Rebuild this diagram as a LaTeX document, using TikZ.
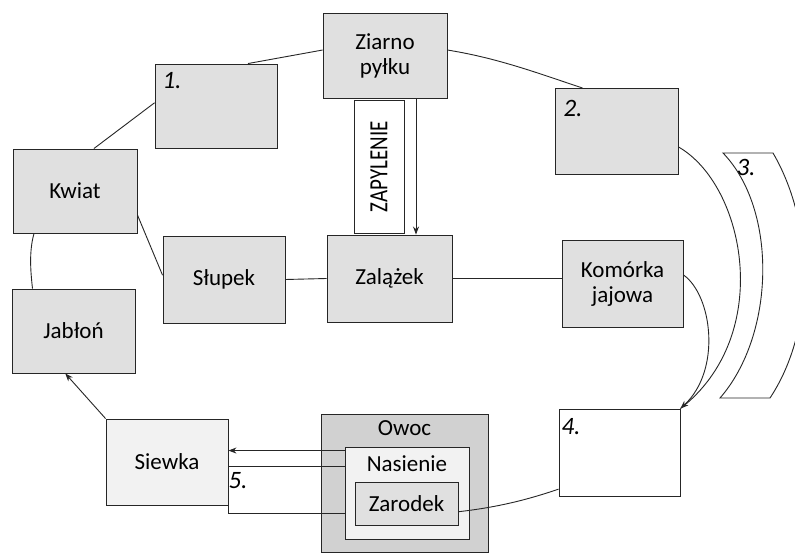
\documentclass[tikz,border=0pt]{standalone}
\usepackage{fontspec}
\setmainfont{Carlito}
\usetikzlibrary{calc,arrows.meta}
\begin{document}
\begin{tikzpicture}[x=1pt,y=-1pt,
  box/.style={draw=black!85, line width=0.9pt, fill=black!12, inner sep=2pt, align=center,
    font=\fontsize{23}{25}\selectfont},
  plainbox/.style={box, fill=white},
  conn/.style={draw=black!85, line width=0.9pt},
  arr/.style={conn, -{Stealth[length=8pt,width=6pt]}},
  lbl/.style={font=\fontsize{23}{25}\selectfont, inner sep=0pt},
  hand/.style={font=\fontsize{25}{27}\selectfont\itshape, inner sep=0pt}]
\useasboundingbox (0,0) rectangle (795,553);
\fill[white] (0,0) rectangle (795,553);

% boxes
\node[box, minimum width=124pt, minimum height=85pt] (zp) at (385,55.5) {Ziarno\\pyłku};
\node[box, minimum width=122pt, minimum height=84pt] (b1) at (216,106) {};
\node[box, minimum width=123pt, minimum height=86pt] (b2) at (616.5,131.5) {};
\node[box, minimum width=124pt, minimum height=84pt] (kw) at (75,191) {Kwiat};
\node[box, minimum width=122pt, minimum height=87pt] (sl) at (224,279.5) {Słupek};
\node[box, minimum width=125pt, minimum height=87pt] (za) at (389.5,278.5) {Zalążek};
\node[box, minimum width=121pt, minimum height=87pt] (kj) at (622.5,283.5) {Komórka\\jajowa};
\node[box, minimum width=123pt, minimum height=84pt] (jb) at (73.5,331) {Jabłoń};
\node[plainbox, minimum width=121pt, minimum height=87pt] (b4) at (619.5,452.5) {};
\node[box, fill=black!5, minimum width=122pt, minimum height=86pt] (sw) at (167,462) {Siewka};
\node[plainbox, minimum width=50pt, minimum height=133pt] (zap) at (379,166.5)
  {\rotatebox{90}{\scalebox{1}[1.25]{\fontsize{21}{23}\selectfont ZAPYLENIE}}};

% Owoc / Nasienie / Zarodek
\node[box, fill=black!18, minimum width=167pt, minimum height=138pt] (ow) at (404.5,483) {};
\node[box, fill=black!5, minimum width=124pt, minimum height=92pt] (ns) at (407,493) {};
\node[box, minimum width=103pt, minimum height=43pt] (zr) at (406.5,503.5) {Zarodek};
\node[lbl] (owt) at (404.5,428) {Owoc};
\node[lbl] (nst) at (407,464) {Nasienie};

% handwritten numbers
\node[hand] (n1) at (172,81) {1.};
\node[hand] (n2) at (573,108) {2.};
\node[hand] (n3) at (746,167) {3.};
\node[hand] (n4) at (571,427) {4.};
\node[hand] (n5) at (238,481) {5.};

% "3." bracket band
\begin{scope}
\clip (0,0) rectangle (795,553);
\draw[conn] (723,153) -- (773,153) .. controls (815,225) and (815,330) .. (770,398)
  -- (720,398) .. controls (775,335) and (778,210) .. (723,153) -- cycle;
\end{scope}

% connectors
\draw[conn] (b1.53) -- (zp.175);
\draw[conn] (b1.177) -- (kw.66);
\draw[conn] (zp.5) .. controls +(50,8) and +(-45,-15) .. (b2.128);
\draw[conn] (kw.-21) -- (sl.176);
\draw[conn] (kw.226) .. controls +(-5,18) and +(-2,-18) .. (jb.134.6);
\draw[arr] (sw.north west) -- (jb.259);
\draw[conn] (sl.east) -- (za.west);
\draw[conn] (za.east) -- (za.east -| kj.west);
\coordinate (za1) at ($(zp.south)+(31,0)$);
\draw[arr] (za1) -- (za1 |- za.north);
\draw[conn] (b2.-14) .. controls (745,185) and (775,335) .. (b4.north east);
\draw[arr] (kj.8) .. controls (712,295) and (722,370) .. (b4.north east);
\draw[conn] (b4.211.8) .. controls +(-35,12) and +(35,-4) .. (zr.-9.4);

% Nasienie -> Siewka
\coordinate (q1) at ($(ns.north west)+(0,4)$);
\draw[arr] (q1) -- (q1 -| sw.east);
\coordinate (p1) at ($(ns.north west)+(0,20)$);
\coordinate (p2) at ($(ns.north west)+(0,67)$);
\draw[conn] (p1) -- (p1 -| sw.east) -- (p2 -| sw.east) -- (p2);
\end{tikzpicture}
\end{document}
